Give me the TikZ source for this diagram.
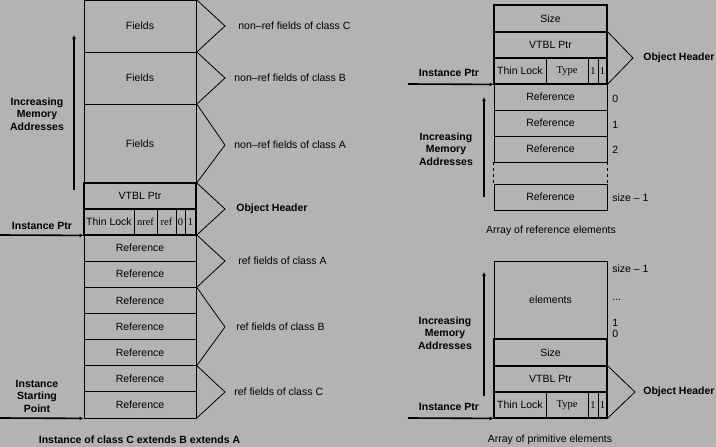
\documentclass[tikz,border=0pt]{standalone}
\usepackage{fontspec}
\setmainfont{Liberation Sans}
\newfontfamily\serfont{Liberation Serif}
\usepackage{xcolor}
\usetikzlibrary{arrows.meta}
\definecolor{paper}{RGB}{179,179,179}
\newcommand\diagsize{\fontsize{10.5}{12.5}\selectfont}

\begin{document}
\begin{tikzpicture}[x=1pt,y=-1pt,line width=0.8pt,font=\diagsize,
    box/.style args={#1x#2}{draw,inner sep=0pt,minimum width=#1,minimum height=#2},
    serif/.style={font=\diagsize\serfont},
    bold/.style={font=\diagsize\bfseries},
    thickbox/.style={line width=2pt},
    ptr/.style={line width=1.6pt,-{Latex[length=4pt,width=4pt]}},
    lbl/.style={anchor=west,inner sep=0pt},
    head/.style={anchor=west,inner sep=0pt,bold}]
    \useasboundingbox[fill=paper] (0,0) rectangle (716,447);
    \node[box=112x52] (fieldsC) at (140,26) {Fields};
    \node[box=112x52] (fieldsB) at (140,78) {Fields};
    \node[box=112x79] (fieldsA) at (140,143.5) {Fields};
    \node[box=112x26] (vtblL) at (140,196) {VTBL Ptr};
    \node[box=50x26] (lockL) at (109,222) {Thin Lock};
    \node[box=23x26,serif] (nrefL) at (145.5,222) {nref};
    \node[box=19x26,serif] (refL) at (166.5,222) {ref};
    \node[box=9x26,serif] (zeroL) at (180.5,222) {0};
    \node[box=11x26,serif] (oneL) at (190.5,222) {1};
    \foreach \i in {1,...,7}
        \node[box=112x26.14] (ref\i) at (140,{235+26.14*(\i-0.5)}) {Reference};
    \draw[thickbox] (vtblL.north west) rectangle (vtblL.south east);
    \draw[thickbox] (vtblL.north west) rectangle (oneL.south east);
    \coordinate (tipC) at (225,26);
    \coordinate (tipB) at (225,78);
    \coordinate (tipA) at (225,145);
    \coordinate (tipH) at (225,209);
    \coordinate (tipRA) at (225,261);
    \coordinate (tipRB) at (225,327);
    \coordinate (tipRC) at (225,392);
    \draw (fieldsC.north east) -- (tipC) -- (fieldsC.south east);
    \draw (fieldsB.north east) -- (tipB) -- (fieldsB.south east);
    \draw (fieldsA.north east) -- (tipA) -- (fieldsA.south east);
    \draw (vtblL.north east) -- (tipH) -- (oneL.south east);
    \draw (ref1.north east) -- (tipRA) -- (ref2.south east);
    \draw (ref3.north east) -- (tipRB) -- (ref5.south east);
    \draw (ref6.north east) -- (tipRC) -- (ref7.south east);
    \node[lbl] (labC) at (238,26) {non--ref fields of class C};
    \node[lbl] (labB) at (234,78) {non--ref fields of class B};
    \node[lbl] (labA) at (234,145) {non--ref fields of class A};
    \node[head] (labH) at (236,209) {Object Header};
    \node[lbl] (labRA) at (238,261) {ref fields of class A};
    \node[lbl] (labRB) at (236,327) {ref fields of class B};
    \node[lbl] (labRC) at (234,392) {ref fields of class C};
    \coordinate (lowL) at (74,190);
    \coordinate (highL) at (74,35);
    \draw[ptr] (lowL) -- (highL);
    \node[bold,align=center] (incL) at (37,114) {Increasing\\Memory\\Addresses};
    \node[bold] (ptrtxtL) at (42,226) {Instance Ptr};
    \coordinate (ptrL) at (0,235);
    \draw[ptr] (ptrL) -- (lockL.south west);
    \node[bold,align=center] (starttxt) at (37,396) {Instance\\Starting\\Point};
    \coordinate (startL) at (0,418);
    \draw[ptr] (startL) -- (ref7.south west);
    \node[bold] (capL) at (139.5,440) {Instance of class C extends B extends A};
    \node[box=113x27] (sizeR) at (550.5,18.5) {Size};
    \node[box=113x26] (vtblR) at (550.5,45) {VTBL Ptr};
    \node[box=52x26] (lockR) at (520,71) {Thin Lock};
    \node[box=42x26,serif] (typeR) at (567,71) {Type};
    \node[box=10x26,serif] (bitaR) at (593,71) {1};
    \node[box=9x26,serif] (bitbR) at (602.5,71) {1};
    \node[box=113x26] (elem0) at (550.5,97) {Reference};
    \node[box=113x26] (elem1) at (550.5,123) {Reference};
    \node[box=113x26] (elem2) at (550.5,149) {Reference};
    \node[box=113x26] (elemN) at (550.5,197) {Reference};
    \draw[dashed] (elem2.south west) -- (elemN.north west);
    \draw[dashed] (elem2.south east) -- (elemN.north east);
    \draw[thickbox] (sizeR.north west) rectangle (sizeR.south east);
    \draw[thickbox] (vtblR.north west) rectangle (vtblR.south east);
    \draw[thickbox] (lockR.north west) rectangle (bitbR.south east);
    \node[lbl] (idx0) at (612,99) {0};
    \node[lbl] (idx1) at (612,125) {1};
    \node[lbl] (idx2) at (612,150) {2};
    \node[lbl] (idxN) at (612,198) {size -- 1};
    \coordinate (tipR) at (633,58);
    \draw (vtblR.north east) -- (tipR) -- (bitbR.south east);
    \node[head] (labR) at (643,58) {Object Header};
    \node[bold] (ptrtxtR) at (449,73) {Instance Ptr};
    \coordinate (ptrR) at (408,84);
    \draw[ptr] (ptrR) -- (lockR.south west);
    \coordinate (lowR) at (484,197);
    \coordinate (highR) at (484,97);
    \draw[ptr] (lowR) -- (highR);
    \node[bold,align=center] (incR) at (446,149) {Increasing\\Memory\\Addresses};
    \node (capR) at (551,231) {Array of reference elements};
    \node[box=113x78] (elems) at (550.5,300) {elements};
    \node[box=113x27] (sizeP) at (550.5,352.5) {Size};
    \node[box=113x26] (vtblP) at (550.5,379) {VTBL Ptr};
    \node[box=52x26] (lockP) at (520,405) {Thin Lock};
    \node[box=42x26,serif] (typeP) at (567,405) {Type};
    \node[box=10x26,serif] (bitaP) at (593,405) {1};
    \node[box=9x26,serif] (bitbP) at (602.5,405) {1};
    \draw[thickbox] (sizeP.north west) rectangle (sizeP.south east);
    \draw[thickbox] (vtblP.north west) rectangle (vtblP.south east);
    \draw[thickbox] (lockP.north west) rectangle (bitbP.south east);
    \node[lbl] (topP) at (612,269) {size -- 1};
    \node[lbl] (dotsP) at (612,300) {...};
    \node[lbl] (oneP) at (612,323) {1};
    \node[lbl] (zeroP) at (612,334) {0};
    \coordinate (tipP) at (635,392);
    \draw (vtblP.north east) -- (tipP) -- (bitbP.south east);
    \node[head] (labP) at (643,392) {Object Header};
    \coordinate (lowP) at (484,396);
    \coordinate (highP) at (484,272);
    \draw[ptr] (lowP) -- (highP);
    \node[bold,align=center] (incP) at (445,333) {Increasing\\Memory\\Addresses};
    \node[bold] (ptrtxtP) at (449,407) {Instance Ptr};
    \coordinate (ptrP) at (408,418);
    \draw[ptr] (ptrP) -- (lockP.south west);
    \node (capP) at (550,440) {Array of primitive elements};
\end{tikzpicture}
\end{document}
